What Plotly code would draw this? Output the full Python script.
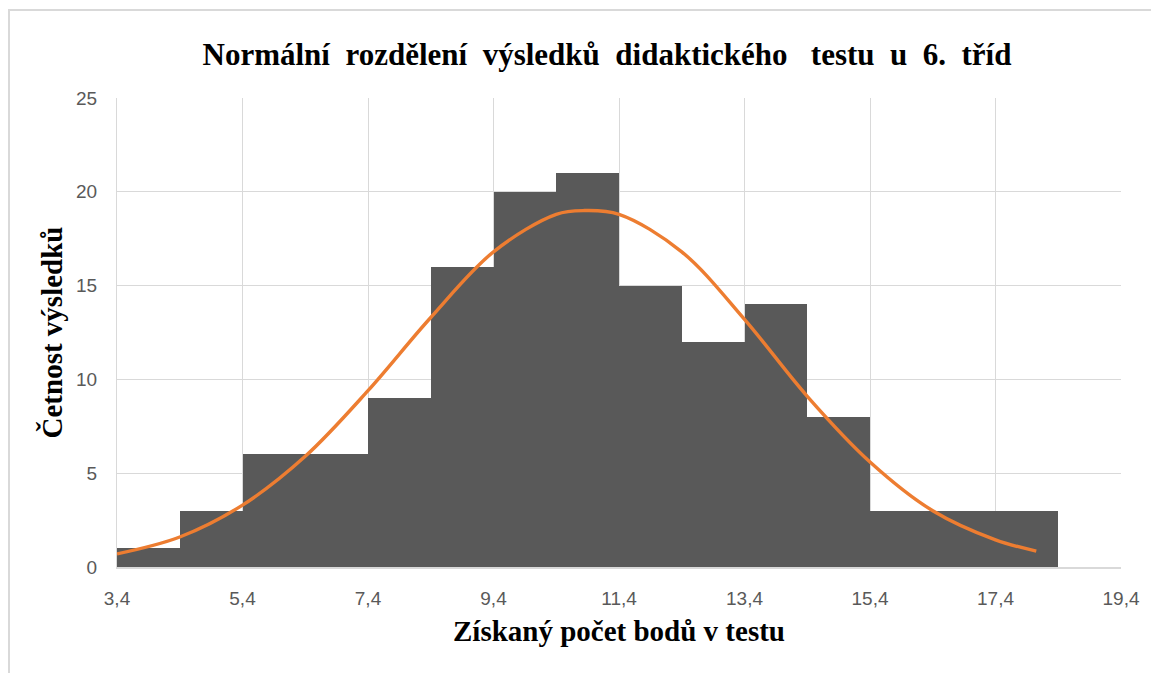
import plotly.graph_objects as go

# Histogram bins (left edges) and counts
bin_left = [3.4, 4.4, 5.4, 6.4, 7.4, 8.4, 9.4, 10.4, 11.4, 12.4, 13.4, 14.4, 15.4, 16.4, 17.4]
counts = [1, 3, 6, 6, 9, 16, 20, 21, 15, 12, 14, 8, 3, 3, 3]

# Fitted normal curve points
curve_x = [3.4, 4.4, 5.4, 6.4, 7.4, 8.4, 9.4, 10.4, 10.85, 11.4, 12.4, 13.4, 14.4, 15.4, 16.4, 17.4, 18.05]
curve_y = [0.7, 1.6, 3.3, 5.9, 9.4, 13.3, 16.8, 18.8, 19.0, 18.8, 16.8, 13.2, 9.1, 5.6, 3.0, 1.45, 0.85]

x_ticks = [3.4, 5.4, 7.4, 9.4, 11.4, 13.4, 15.4, 17.4, 19.4]
y_ticks = [0, 5, 10, 15, 20, 25]

fig = go.Figure()
fig.add_trace(go.Bar(
    x=bin_left, y=counts, width=1, offset=0,
    marker=dict(color="#595959", line=dict(width=0)),
    showlegend=False, hoverinfo="x+y",
))
fig.add_trace(go.Scatter(
    x=curve_x, y=curve_y, mode="lines",
    line=dict(color="#ED7D31", width=3.4, shape="spline", smoothing=1.0),
    showlegend=False,
))

serif = "Liberation Serif, Times New Roman, serif"
sans = "Liberation Sans, Arial, sans-serif"

fig.update_layout(
    width=1159, height=673,
    margin=dict(l=109, r=46, t=90, b=114),
    paper_bgcolor="white", plot_bgcolor="white",
    separators=",.",
    bargap=0,
    title=dict(
        text="<b>Normální  rozdělení  výsledků  didaktického   testu  u  6.  tříd</b>",
        font=dict(family=serif, size=31, color="black"),
        x=(607 - 8) / 1159, xanchor="center", xref="container",
        y=1 - (54 - 8) / 673, yanchor="middle", yref="container",
    ),
    xaxis=dict(
        range=[3.4, 19.4], tickvals=x_ticks, tickformat=".1f",
        showgrid=True, gridcolor="#d9d9d9", gridwidth=1,
        showline=True, linecolor="#d9d9d9", linewidth=1.5,
        zeroline=False, ticks="",
        tickfont=dict(family=sans, size=19, color="#595959"),
        ticklabelstandoff=13,
        title=dict(text="<b>Získaný počet bodů v testu</b>",
                   font=dict(family=serif, size=29, color="black"), standoff=13),
    ),
    yaxis=dict(
        range=[0, 25], tickvals=y_ticks,
        showgrid=True, gridcolor="#d9d9d9", gridwidth=1,
        showline=True, linecolor="#d9d9d9", linewidth=1,
        zeroline=False, ticks="",
        tickfont=dict(family=sans, size=19, color="#595959"),
        ticklabelstandoff=15,
        title=dict(text="<b>Četnost výsledků</b>",
                   font=dict(family=serif, size=29, color="black"), standoff=4),
    ),
    shapes=[dict(
        type="rect", xref="paper", yref="paper",
        x0=(1 - 109) / 1004, x1=(1175 - 117) / 1004,
        y0=(567 - 690) / 469, y1=(567 - 10) / 469,
        line=dict(color="#d9d9d9", width=2), fillcolor="rgba(0,0,0,0)", layer="below",
    )],
)

fig.write_html("out.html")
